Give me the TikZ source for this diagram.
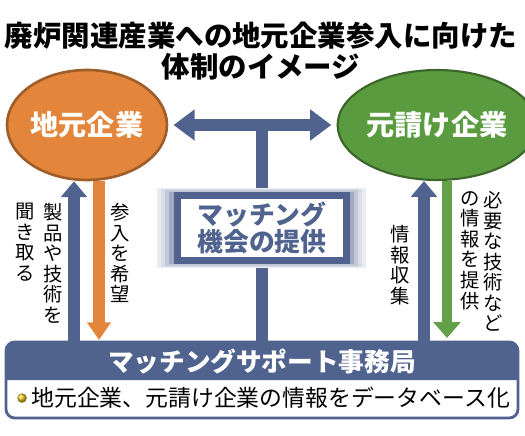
\documentclass[tikz,border=0pt]{standalone}
\usepackage{fontspec}
\setmainfont{Noto Sans CJK JP}
\usetikzlibrary{arrows.meta,shapes.geometric}
\definecolor{slate}{HTML}{50638F}
\definecolor{carrot}{HTML}{E3863B}
\definecolor{leaf}{HTML}{5B9B3F}
\tikzset{
  firm/.style={ellipse, inner sep=0pt, minimum width=3.2cm, minimum height=2.2cm,
    text=white, font=\fontsize{16}{16}\selectfont\bfseries},
  tate/.style={anchor=north, inner sep=0pt, align=center, font=\fontsize{11}{11.7}\selectfont},
  uparrow/.style={slate, line width=6.8pt, -{Triangle[width=14.5pt,length=9pt]}},
  tbar/.style={slate, line width=6.8pt, {Triangle[width=17pt,length=12pt]}-{Triangle[width=17pt,length=12pt]},
    shorten <=3pt, shorten >=3pt}
}
\begin{document}
\begin{tikzpicture}[x=0.02cm,y=-0.02cm]
\useasboundingbox (0,0) rectangle (525,436);
% title
\node (title) at (261,51) [align=center, font=\fontsize{16.2}{17.6}\selectfont\bfseries]
  {廃炉関連産業への地元企業参入に向けた\\体制のイメージ};
% the two firms
\node (local) at (87,125) [firm, fill=carrot, draw=carrot!70!black, line width=1.5pt] {地元企業};
\node (prime) at (437,125) [firm, fill=leaf, draw=leaf!65!black, line width=1.2pt] {元請け企業};
% coordinates on the office bar
\coordinate (lup) at (74,345);
\coordinate (ldown) at (99,340);
\coordinate (rup) at (424,345);
\coordinate (rdown) at (447,338);
\coordinate (stem) at (262,345);
% T shaped arrow
\draw[slate, line width=7.2pt] (stem) -- (stem |- local.east);
\draw[tbar] (local.east) -- (prime.west);
% matching box with its glow
\foreach \g/\s in {16/12,12/22,8/35,4/55}
  \fill[slate!\s] (173-\g,193-\g/3) rectangle (350+\g,263+\g/3);
\node (match) at (262,228) [draw=slate, line width=4pt, fill=white, inner sep=0pt,
  minimum width=3.4cm, minimum height=1.3cm, align=center, text=slate,
  font=\fontsize{14.7}{15.4}\selectfont\bfseries] {マッチング\\機会の提供};
% up and down arrows
\draw[uparrow] (lup) -- (lup |- local.south);
\draw[carrot, line width=6.8pt, -{Triangle[width=13pt,length=10pt]}] (local.south -| ldown) -- (ldown);
\draw[uparrow] (rup) -- (rup |- prime.south);
\draw[leaf!95!white, line width=6pt, -{Triangle[width=15pt,length=9pt]}] (prime.south -| rdown) -- (rdown);
% labels beside the arrows
\node (hear) at (53,203) [tate] {製\\品\\や\\技\\術\\を};
\node (hear2) at (25,203) [tate] {聞\\き\\取\\る};
\node (wish) at (120,203) [tate] {参\\入\\を\\希\\望};
\node (gather) at (400,225) [tate] {情\\報\\収\\集};
\node (offer) at (493,191) [tate] {必\\要\\な\\技\\術\\な\\ど};
\node (offer2) at (470,191) [tate] {の\\情\\報\\を\\提\\供};
% support office
\fill[white] (6,342) rectangle (518,418);
\fill[slate] (6,380) [rounded corners=5pt] -- (6,342) -- (518,342) [sharp corners] -- (518,380) -- cycle;
\draw[slate, line width=1.6pt, rounded corners=5pt] (6,342) rectangle (518,418);
\node (office) at (262,362) [text=white, font=\fontsize{14.6}{14.6}\selectfont\bfseries] {マッチングサポート事務局};
\node (dot) at (22,398) [circle, inner sep=0pt, minimum size=0.19cm, ball color=yellow!55!brown] {};
\node (dbline) at (31,398) [anchor=west, inner sep=0pt, font=\fontsize{13}{13}\selectfont]
  {地元企業、元請け企業の情報をデータベース化};
\end{tikzpicture}
\end{document}
